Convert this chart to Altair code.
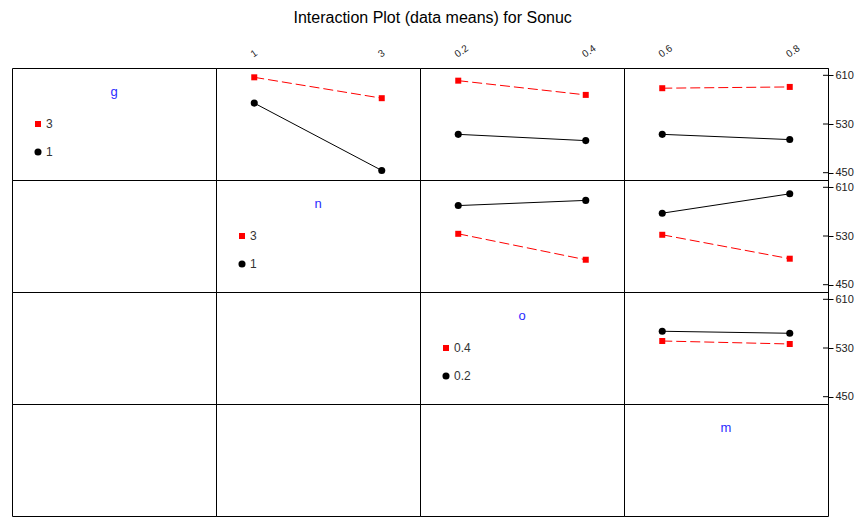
import altair as alt
import pandas as pd

FONT = "Liberation Sans"
W, H = 204, 112

title_text = "Interaction Plot (data means) for Sonuc"
factors = ["g", "n", "o", "m"]
factor_levels = {"g": [1, 3], "n": [1, 3], "o": [0.2, 0.4], "m": [0.6, 0.8]}
level_labels = {"g": ["1", "3"], "n": ["1", "3"], "o": ["0.2", "0.4"], "m": ["0.6", "0.8"]}
y_ticks = [450, 530, 610]
y_domain = [438, 622]

# Sonuc means of the trace factor's low / high level over the x factor's two levels
g_low_by_n = [564.3, 453.7]
g_high_by_n = [606.7, 572.4]
g_low_by_o = [513.0, 502.7]
g_high_by_o = [601.2, 577.8]
g_low_by_m = [513.0, 504.4]
g_high_by_m = [588.8, 590.9]
n_low_by_o = [580.0, 588.5]
n_high_by_o = [533.6, 491.0]
n_low_by_m = [567.5, 599.3]
n_high_by_m = [532.0, 492.7]
o_low_by_m = [557.5, 554.2]
o_high_by_m = [541.5, 536.6]

means = {
    ("g", "n"): (g_low_by_n, g_high_by_n),
    ("g", "o"): (g_low_by_o, g_high_by_o),
    ("g", "m"): (g_low_by_m, g_high_by_m),
    ("n", "o"): (n_low_by_o, n_high_by_o),
    ("n", "m"): (n_low_by_m, n_high_by_m),
    ("o", "m"): (o_low_by_m, o_high_by_m),
}


def x_scale(f):
    lo, hi = factor_levels[f]
    d = hi - lo
    return alt.Scale(domain=[lo - 0.3 * d, hi + 0.3 * d], nice=False, zero=False)


def interaction_panel(trace, xf, show_top, show_right):
    low, high = means[(trace, xf)]
    xs = factor_levels[xf]
    df = pd.DataFrame({
        "x": xs + xs,
        "mean": low + high,
        "trace": ["low", "low", "high", "high"],
    })
    fmt = "d" if xf in ("g", "n") else ".1f"
    if show_top:
        x_axis = alt.Axis(orient="top", values=xs, format=fmt, labelAngle=-35,
                          labelAlign="left", labelBaseline="bottom",
                          ticks=False, domain=False, grid=False, title=None,
                          labelFontSize=10, labelPadding=9, labelColor="#222222",
                          labelFont=FONT)
    else:
        x_axis = None
    if show_right:
        y_axis = alt.Axis(orient="right", values=y_ticks, tickSize=5, tickColor="black",
                          domain=True, domainColor="black", grid=False, title=None,
                          labelFontSize=11, labelPadding=2, labelColor="#222222",
                          labelFont=FONT)
    else:
        y_axis = None
    x_enc = alt.X("x:Q", scale=x_scale(xf), axis=x_axis)
    y_enc = alt.Y("mean:Q", scale=alt.Scale(domain=y_domain, nice=False, zero=False), axis=y_axis)
    base = alt.Chart(df).encode(x=x_enc, y=y_enc)
    low_f = base.transform_filter(alt.datum.trace == "low")
    high_f = base.transform_filter(alt.datum.trace == "high")
    layers = [
        low_f.mark_line(color="black", strokeWidth=1),
        low_f.mark_point(shape="circle", filled=True, color="black", size=50, opacity=1),
        high_f.mark_line(color="red", strokeWidth=1, strokeDash=[10, 4]),
        high_f.mark_point(shape="square", filled=True, color="red", size=36, opacity=1),
    ]
    if show_right:
        tick_df = pd.DataFrame({"mean": y_ticks})
        layers.append(
            alt.Chart(tick_df).mark_rule(color="black", strokeWidth=1).encode(
                y=alt.Y("mean:Q", scale=alt.Scale(domain=y_domain, nice=False, zero=False), axis=y_axis),
                x=alt.value(W - 5), x2=alt.value(W),
            )
        )
    return alt.layer(*layers).properties(width=W, height=H)


def legend_panel(f):
    name = alt.Chart(pd.DataFrame({"t": [f]})).mark_text(
        color="#2b2bff", fontSize=13, font=FONT, align="center", baseline="middle"
    ).encode(text="t:N", x=alt.value(W / 2), y=alt.value(24))
    layers = [name]
    if f != "m":
        lo_lab, hi_lab = level_labels[f]
        layers += [
            alt.Chart(pd.DataFrame({"t": [hi_lab]})).mark_point(
                shape="square", filled=True, color="red", size=36, opacity=1
            ).encode(x=alt.value(26), y=alt.value(56)),
            alt.Chart(pd.DataFrame({"t": [lo_lab]})).mark_point(
                shape="circle", filled=True, color="black", size=50, opacity=1
            ).encode(x=alt.value(26), y=alt.value(84)),
            alt.Chart(pd.DataFrame({"t": [hi_lab]})).mark_text(
                align="left", baseline="middle", fontSize=12, font=FONT, color="#333333"
            ).encode(text="t:N", x=alt.value(34), y=alt.value(56)),
            alt.Chart(pd.DataFrame({"t": [lo_lab]})).mark_text(
                align="left", baseline="middle", fontSize=12, font=FONT, color="#333333"
            ).encode(text="t:N", x=alt.value(34), y=alt.value(84)),
        ]
    return alt.layer(*layers).properties(width=W, height=H)


def empty_panel():
    return alt.Chart(pd.DataFrame({"t": [""]})).mark_text().encode(
        text="t:N", x=alt.value(0), y=alt.value(0)
    ).properties(width=W, height=H)


panels = []
for i, trace in enumerate(factors):
    for j, xf in enumerate(factors):
        if i == j:
            panels.append(legend_panel(trace))
        elif j > i:
            panels.append(interaction_panel(trace, xf, show_top=(i == 0), show_right=(j == 3)))
        else:
            panels.append(empty_panel())

chart = alt.concat(*panels, columns=4, spacing=0, bounds="flush").properties(
    title=alt.TitleParams(title_text, fontSize=16, font=FONT, fontWeight="normal",
                          anchor="middle", color="black", offset=16),
    padding={"left": 11, "top": 10, "right": 5, "bottom": 3},
    background="white",
).configure_view(stroke="black", strokeWidth=1)

chart.save("out.html", embed_options={"renderer": "svg", "actions": False})
